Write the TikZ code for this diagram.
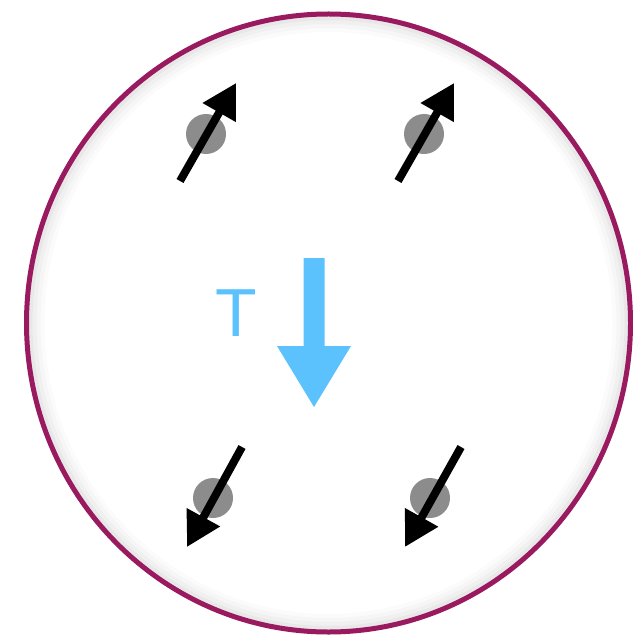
\documentclass[tikz,border=0pt]{standalone}
\usepackage{fontspec}
\setmainfont{Liberation Sans}
\usetikzlibrary{arrows.meta}
\definecolor{rim}{HTML}{9A1A60}
\definecolor{tblue}{HTML}{5BC2FE}
\definecolor{dot}{HTML}{8C8C8C}
\tikzset{
  spin/.style={line width=8pt, -{Triangle[length=34pt,width=36pt]}},
  site/.style={fill=dot},
}
\begin{document}
\begin{tikzpicture}[x=1pt,y=-1pt]
\useasboundingbox (0,0) rectangle (632,636);
\fill[white] (0,0) rectangle (632,636);
% soft inner shadow
\foreach \d/\o in {4/0.09,8/0.06,12/0.035,16/0.015}{
  \draw[black, opacity=\o, line width=4pt] (328.5,323) ellipse ({302-\d} and {309-\d});
}
\draw[rim, line width=5pt] (328.5,323) ellipse (302 and 309);
% sites
\fill[site] (206,134) circle (20);
\fill[site] (424,134) circle (20);
\fill[site] (213,498) circle (20);
\fill[site] (430,498) circle (20);
% spins
\coordinate (a1) at (180,181); \coordinate (a2) at (236,83);
\coordinate (b1) at (398,181); \coordinate (b2) at (454,83);
\coordinate (c1) at (242,447); \coordinate (c2) at (187,547);
\coordinate (d1) at (461,447); \coordinate (d2) at (405,547);
\draw[spin] (a1) -- (a2);
\draw[spin] (b1) -- (b2);
\draw[spin] (c1) -- (c2);
\draw[spin] (d1) -- (d2);
% T arrow
\fill[tblue] (303.5,258) -- (324.5,258) -- (324.5,346) -- (351,346) -- (314,407) -- (277,346) -- (303.5,346) -- cycle;
\node[text=tblue, font=\fontsize{68}{68}\selectfont, inner sep=0pt] (T) at (236.5,313.5) {T};
\end{tikzpicture}
\end{document}
